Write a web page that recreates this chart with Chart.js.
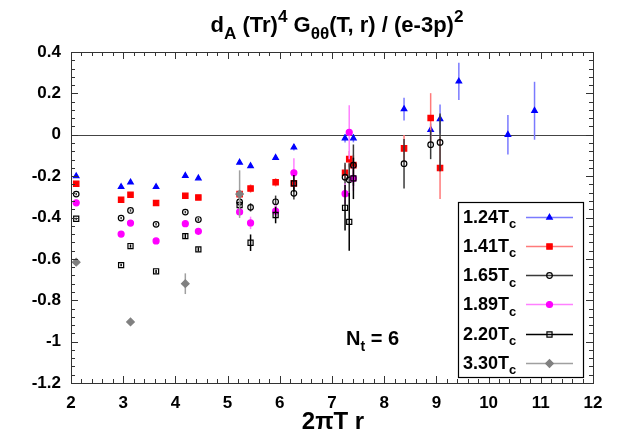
<!DOCTYPE html>
<html>
<head>
<meta charset="utf-8">
<script src="https://cdn.jsdelivr.net/npm/chart.js@4/dist/chart.umd.min.js"></script>
<style>
html, body { margin: 0; padding: 0; background: #fff; }
</style>
</head>
<body>
<canvas id="c" width="623" height="436"></canvas>
<script>
// data: x = 2 pi T r, y = value, e = error half width
const x124 = [2.10, 2.96, 3.14, 3.63, 4.19, 4.44, 5.23, 5.44, 5.92, 6.27, 7.25, 7.41, 8.38, 8.89, 9.07, 9.43, 10.37, 10.88];
const y124 = [-0.200, -0.252, -0.230, -0.252, -0.198, -0.210, -0.134, -0.151, -0.111, -0.061, -0.017, -0.017, 0.124, 0.024, 0.076, 0.258, 0.000, 0.116];
const e124 = [0.005, 0.005, 0.005, 0.005, 0.005, 0.005, 0.01, 0.01, 0.01, 0.015, 0.02, 0.02, 0.055, 0.03, 0.07, 0.09, 0.095, 0.14];

const x141 = [2.10, 2.96, 3.14, 3.63, 4.19, 4.44, 5.23, 5.44, 5.92, 6.27, 7.25, 7.33, 7.41, 8.38, 8.89, 9.07];
const y141 = [-0.237, -0.314, -0.290, -0.330, -0.295, -0.303, -0.287, -0.260, -0.230, -0.235, -0.184, -0.118, -0.147, -0.066, 0.081, -0.161];
const e141 = [0.005, 0.005, 0.005, 0.006, 0.006, 0.006, 0.02, 0.02, 0.02, 0.03, 0.04, 0.04, 0.05, 0.065, 0.12, 0.15];

const x165 = [2.10, 2.96, 3.14, 3.63, 4.19, 4.44, 5.23, 5.44, 5.92, 6.27, 7.25, 7.33, 7.41, 8.38, 8.89, 9.07];
const y165 = [-0.287, -0.403, -0.366, -0.433, -0.374, -0.410, -0.325, -0.351, -0.324, -0.283, -0.205, -0.218, -0.147, -0.140, -0.048, -0.037];
const e165 = [0.005, 0.005, 0.006, 0.006, 0.006, 0.008, 0.02, 0.02, 0.03, 0.03, 0.07, 0.08, 0.1, 0.12, 0.07, 0.14];

const x189 = [2.10, 2.96, 3.14, 3.63, 4.19, 4.44, 5.23, 5.44, 5.92, 6.27, 7.25, 7.33, 7.41];
const y189 = [-0.329, -0.480, -0.427, -0.513, -0.430, -0.467, -0.373, -0.426, -0.369, -0.184, -0.285, 0.012, -0.211];
const e189 = [0.005, 0.005, 0.006, 0.006, 0.006, 0.008, 0.02, 0.03, 0.03, 0.07, 0.05, 0.13, 0.06];

const x220 = [2.10, 2.96, 3.14, 3.63, 4.19, 4.44, 5.23, 5.44, 5.92, 6.27, 7.25, 7.33, 7.41];
const y220 = [-0.406, -0.630, -0.538, -0.660, -0.490, -0.554, -0.340, -0.522, -0.388, -0.235, -0.353, -0.421, -0.211];
const e220 = [0.005, 0.006, 0.008, 0.008, 0.01, 0.01, 0.02, 0.04, 0.04, 0.04, 0.11, 0.14, 0.1];

const x330 = [2.10, 3.14, 4.19, 5.23];
const y330 = [-0.616, -0.905, -0.720, -0.287];
const e330 = [0.01, 0.01, 0.05, 0.115];

const seriesLabels = ['1.24', '1.41', '1.65', '1.89', '2.20', '3.30'];
const xTicks = [2, 3, 4, 5, 6, 7, 8, 9, 10, 11, 12];
const yTicks = [0.4, 0.2, 0, -0.2, -0.4, -0.6, -0.8, -1, -1.2];

function pts(xs, ys) { return xs.map((v, i) => ({ x: v, y: ys[i] })); }

const looks = [
  { style: 'triangle', r: 3.2, fill: '#0000ff', edge: '#0000ff', bar: '#7a7aff' },
  { style: 'rect', r: 3.8, fill: '#ff0000', edge: '#ff0000', bar: '#ff7a7a' },
  { style: 'circle', r: 2.8, fill: 'rgba(0,0,0,0)', edge: '#000000', bar: '#3a3a3a' },
  { style: 'circle', r: 3.0, fill: '#ff00ff', edge: '#ff00ff', bar: '#ff80ff' },
  { style: 'rect', r: 3.6, fill: 'rgba(0,0,0,0)', edge: '#000000', bar: '#000000' },
  { style: 'rectRot', r: 3.8, fill: '#808080', edge: '#808080', bar: '#a0a0a0' }
];
const xs = [x124, x141, x165, x189, x220, x330];
const ys = [y124, y141, y165, y189, y220, y330];
const es = [e124, e141, e165, e189, e220, e330];

const datasets = seriesLabels.map((lab, i) => ({
  label: lab + 'Tc',
  data: pts(xs[i], ys[i]),
  errs: es[i],
  barColor: looks[i].bar,
  order: 6 - i,
  showLine: false,
  pointStyle: looks[i].style,
  pointRadius: looks[i].r,
  pointHoverRadius: looks[i].r,
  backgroundColor: looks[i].fill,
  borderColor: looks[i].edge,
  borderWidth: 1.2
}));

const boldFont = 'bold {s}px "Liberation Sans", Arial, Helvetica, sans-serif';
function bf(s) { return boldFont.replace('{s}', s); }

// draws text pieces with sub/superscripts, returns the width
function drawRich(ctx, parts, x, y, size, measureOnly, small) {
  let w = 0;
  ctx.textAlign = 'left';
  ctx.textBaseline = 'alphabetic';
  parts.forEach(p => {
    const s = p.k ? size * (small || 0.75) : size;
    ctx.font = bf(s);
    const dy = p.k === 'sub' ? size * 0.3 : (p.k === 'sup' ? -size * 0.45 : 0);
    if (!measureOnly) ctx.fillText(p.t, x + w, y + dy);
    w += ctx.measureText(p.t).width;
  });
  return w;
}

const gnuplotLook = {
  id: 'gnuplotLook',
  beforeDatasetsDraw(chart) {
    const ctx = chart.ctx, a = chart.chartArea;
    const ysc = chart.scales.y;
    ctx.save();
    ctx.strokeStyle = '#444';
    ctx.lineWidth = 1.2;
    const y0 = Math.round(ysc.getPixelForValue(0)) + 0.5;
    ctx.beginPath();
    ctx.moveTo(a.left, y0);
    ctx.lineTo(a.right, y0);
    ctx.stroke();
    ctx.restore();
  },
  beforeDatasetDraw(chart, args) {
    const ctx = chart.ctx;
    const ds = chart.data.datasets[args.index];
    const ysc = chart.scales.y;
    ctx.save();
    ctx.strokeStyle = ds.barColor;
    ctx.lineWidth = 1.5;
    args.meta.data.forEach((el, i) => {
      const p = ds.data[i];
      const e = ds.errs[i];
      ctx.beginPath();
      ctx.moveTo(el.x, ysc.getPixelForValue(p.y + e));
      ctx.lineTo(el.x, ysc.getPixelForValue(p.y - e));
      ctx.stroke();
    });
    ctx.restore();
  },
  afterDraw(chart) {
    const ctx = chart.ctx, a = chart.chartArea;
    const xsc = chart.scales.x, ysc = chart.scales.y;
    ctx.save();
    // frame and inward ticks
    ctx.strokeStyle = '#333';
    ctx.lineWidth = 1;
    ctx.strokeRect(Math.round(a.left) + 0.5, Math.round(a.top) + 0.5, Math.round(a.right - a.left), Math.round(a.bottom - a.top));
    ctx.beginPath();
    for (let k = 0; k <= 50; k++) {
      const v = 2 + k * 0.2;
      const px = Math.round(xsc.getPixelForValue(v)) + 0.5;
      const len = k % 5 === 0 ? 7 : 4;
      ctx.moveTo(px, a.bottom); ctx.lineTo(px, a.bottom - len);
      ctx.moveTo(px, a.top); ctx.lineTo(px, a.top + len);
    }
    for (let k = 0; k <= 40; k++) {
      const v = -1.2 + k * 0.04;
      const py = Math.round(ysc.getPixelForValue(v)) + 0.5;
      const len = k % 5 === 0 ? 7 : 4;
      ctx.moveTo(a.left, py); ctx.lineTo(a.left + len, py);
      ctx.moveTo(a.right, py); ctx.lineTo(a.right - len, py);
    }
    ctx.stroke();

    // title
    ctx.fillStyle = '#000';
    const title = [
      { t: 'd' }, { t: 'A', k: 'sub' }, { t: ' (Tr)' }, { t: '4', k: 'sup' },
      { t: ' G' }, { t: '\u03b8\u03b8', k: 'sub' }, { t: '(T, r) / (e-3p)' }, { t: '2', k: 'sup' }
    ];
    const tw = drawRich(ctx, title, 0, 0, 22, true, 0.78);
    drawRich(ctx, title, 337 - tw / 2, 32, 22, false, 0.78);

    // x axis title
    const xt = [{ t: '2\u03c0T r' }];
    const xw = drawRich(ctx, xt, 0, 0, 24, true);
    drawRich(ctx, xt, 333 - xw / 2, 429, 24, false);

    // N_t = 6
    drawRich(ctx, [{ t: 'N' }, { t: 't', k: 'sub' }, { t: ' = 6' }], 346, 345, 20, false, 0.7);

    // legend box
    const L = 458, T = 202, R = 583, B = 377;
    ctx.fillStyle = '#fff';
    ctx.fillRect(L, T, R - L, B - T);
    ctx.strokeStyle = '#000';
    ctx.lineWidth = 1.2;
    ctx.strokeRect(L + 0.5, T + 0.5, R - L, B - T);
    chart.data.datasets.forEach((ds, i) => {
      const cy = 216.5 + i * 29.3;
      ctx.fillStyle = '#000';
      drawRich(ctx, [{ t: seriesLabels[i] + 'T' }, { t: 'c', k: 'sub' }], 463, cy + 6, 18, false, 0.72);
      ctx.strokeStyle = ds.barColor;
      ctx.lineWidth = 1.5;
      ctx.beginPath();
      ctx.moveTo(526, Math.round(cy) + 0.5);
      ctx.lineTo(573, Math.round(cy) + 0.5);
      ctx.stroke();
      ctx.fillStyle = ds.backgroundColor;
      ctx.strokeStyle = ds.borderColor;
      ctx.lineWidth = ds.borderWidth;
      Chart.helpers.drawPoint(ctx, { pointStyle: ds.pointStyle, radius: ds.pointRadius, rotation: 0, borderWidth: ds.borderWidth }, 549.5, Math.round(cy) + 0.5);
    });
    ctx.restore();
  }
};

new Chart(document.getElementById('c'), {
  type: 'scatter',
  data: { datasets: datasets },
  options: {
    responsive: false,
    animation: false,
    layout: { padding: { left: 0, right: 30, top: 52, bottom: 0 } },
    plugins: { legend: { display: false }, title: { display: false }, tooltip: { enabled: false } },
    scales: {
      x: {
        type: 'linear', min: 2, max: 12,
        grid: { display: false, drawTicks: false },
        border: { display: false },
        afterFit: s => { s.height = 53; },
        afterBuildTicks: s => { s.ticks = xTicks.map(v => ({ value: v })); },
        ticks: { padding: 10, color: '#000', font: { family: '"Liberation Sans", Arial, sans-serif', size: 17, weight: 'bold' }, maxRotation: 0 }
      },
      y: {
        type: 'linear', min: -1.2, max: 0.4,
        grid: { display: false, drawTicks: false },
        border: { display: false },
        afterFit: s => { s.width = 71; },
        afterBuildTicks: s => { s.ticks = yTicks.map(v => ({ value: v })); },
        ticks: {
          padding: 10, color: '#000',
          font: { family: '"Liberation Sans", Arial, sans-serif', size: 17, weight: 'bold' },
          callback: v => String(Math.round(v * 10) / 10)
        }
      }
    }
  },
  plugins: [gnuplotLook]
});
</script>
</body>
</html>
